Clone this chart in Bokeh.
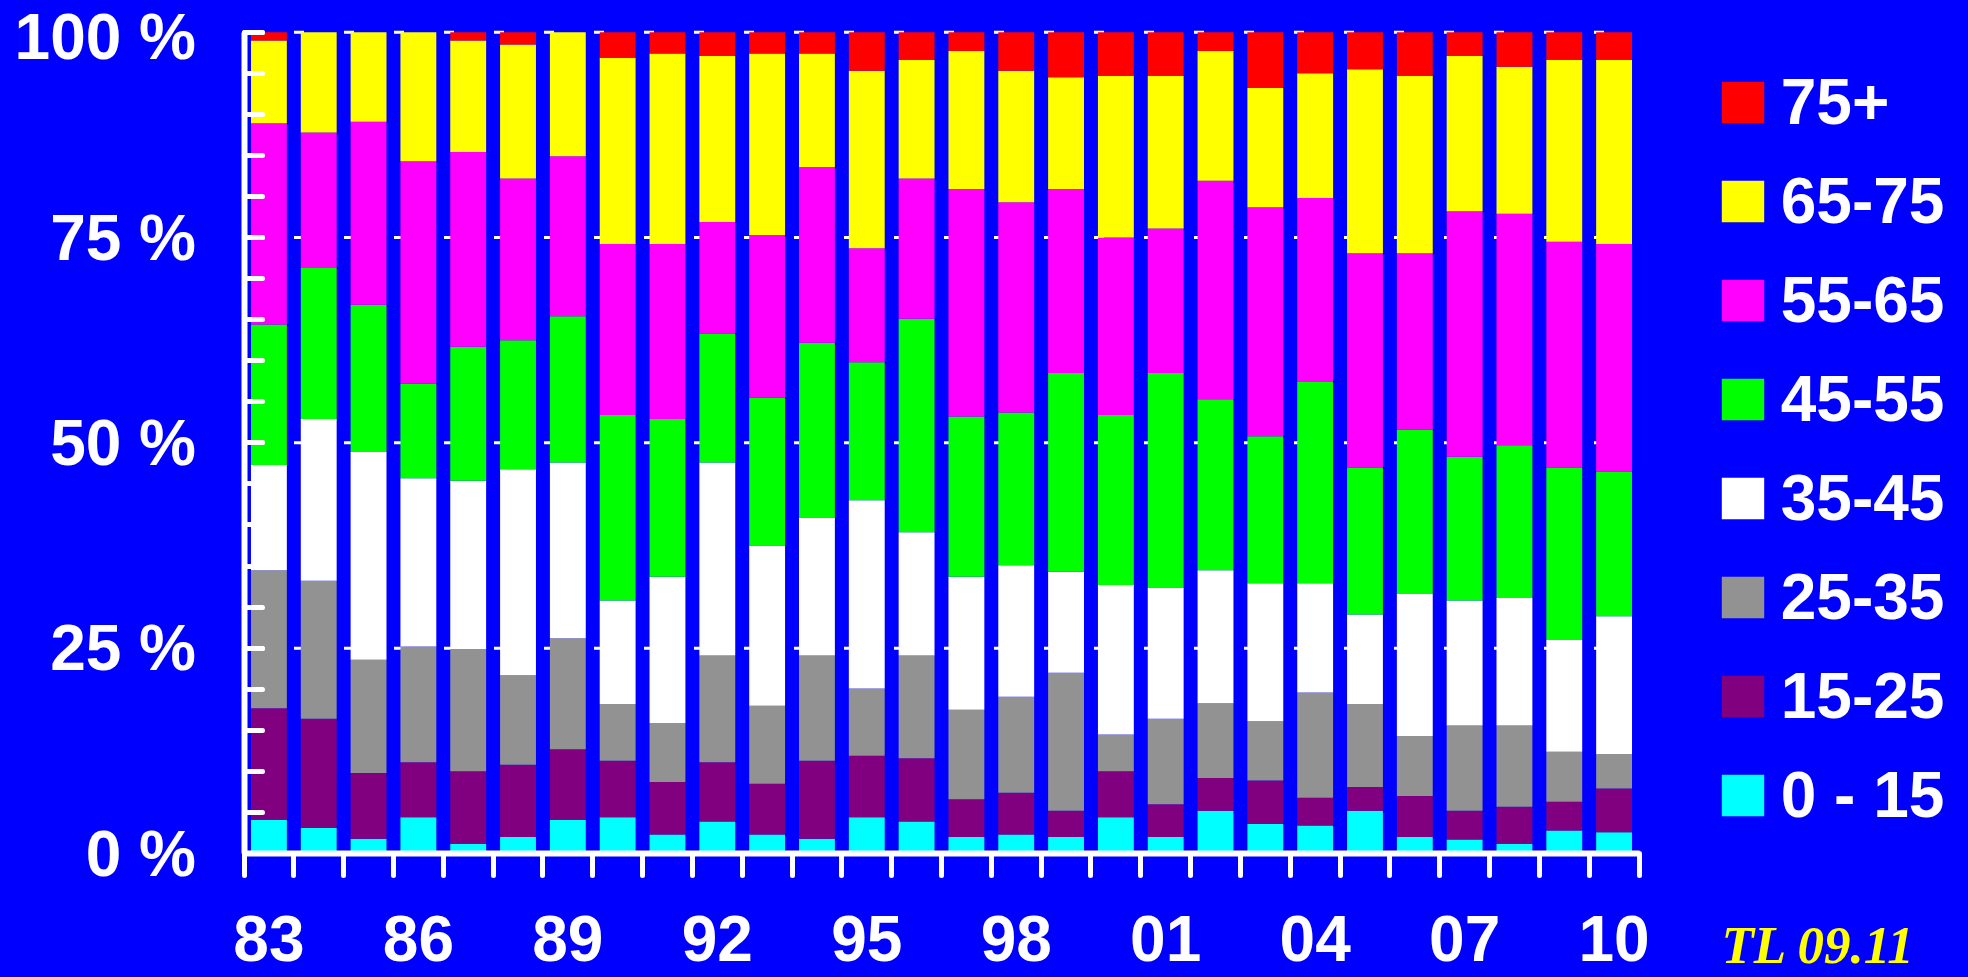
from bokeh.plotting import figure
from bokeh.models import ColumnDataSource, Range1d, FixedTicker, Legend, LegendItem, Label
from bokeh.embed import file_html
from bokeh.resources import INLINE

# ---------------- data (shares in %) ----------------
years = ["83", "84", "85", "86", "87", "88", "89", "90", "91", "92", "93", "94", "95", "96",
         "97", "98", "99", "00", "01", "02", "03", "04", "05", "06", "07", "08", "09", "10"]

groups = ["0 - 15", "15-25", "25-35", "35-45", "45-55", "55-65", "65-75", "75+"]
colors = ["#00FFFF", "#800080", "#929292", "#FFFFFF", "#00FF00", "#FF00FF", "#FFFF00", "#FF0000"]

age_0_15 = [4.1, 3.1, 1.8, 4.4, 1.2, 2.0, 4.1, 4.4, 2.3, 3.9, 2.3, 1.8, 4.4, 3.9,
            2.0, 2.3, 2.0, 4.4, 2.0, 5.2, 3.6, 3.4, 5.2, 2.0, 1.7, 1.2, 2.8, 2.6]
age_15_25 = [13.6, 13.3, 8.0, 6.7, 8.8, 8.8, 8.6, 6.9, 6.4, 7.2, 6.2, 9.5, 7.5, 7.7,
             4.6, 5.1, 3.2, 5.6, 4.0, 4.0, 5.3, 3.4, 2.9, 5.0, 3.5, 4.5, 3.5, 5.3]
age_25_35 = [16.8, 16.8, 13.8, 14.1, 14.9, 10.9, 13.5, 6.9, 7.2, 13.0, 9.5, 12.8, 8.2, 12.5,
             10.9, 11.7, 16.8, 4.5, 10.4, 9.1, 7.2, 12.8, 10.1, 7.3, 10.4, 9.9, 6.1, 4.2]
age_35_45 = [12.8, 19.7, 25.3, 20.5, 20.5, 25.1, 21.4, 12.6, 17.8, 23.5, 19.5, 16.8, 22.9, 15.0,
             16.2, 16.0, 12.3, 18.2, 16.0, 16.2, 16.8, 13.3, 10.9, 17.3, 15.2, 15.5, 13.6, 16.8]
age_45_55 = [17.1, 18.4, 17.9, 11.5, 16.3, 15.7, 17.8, 22.6, 19.2, 15.7, 18.0, 21.3, 16.8, 26.0,
             19.5, 18.6, 24.2, 20.7, 26.1, 20.8, 17.9, 24.5, 17.9, 20.0, 17.5, 18.6, 21.0, 17.6]
age_55_65 = [24.5, 16.5, 22.3, 27.1, 23.7, 19.7, 19.5, 20.8, 21.3, 13.6, 19.8, 21.4, 13.9, 17.1,
             27.7, 25.6, 22.4, 21.6, 17.6, 26.6, 27.9, 22.4, 26.1, 21.5, 29.9, 28.2, 27.5, 27.7]
age_65_75 = [10.1, 12.2, 10.9, 15.7, 13.6, 16.3, 15.1, 22.7, 23.2, 20.2, 22.1, 13.8, 21.6, 14.4,
             16.8, 16.0, 13.6, 19.7, 18.6, 15.8, 14.5, 15.2, 22.4, 21.6, 18.9, 17.9, 22.1, 22.4]
age_75_plus = [1.0, 0.0, 0.0, 0.0, 1.0, 1.5, 0.0, 3.1, 2.6, 2.9, 2.6, 2.6, 4.7, 3.4,
               2.3, 4.7, 5.5, 5.3, 5.3, 2.3, 6.8, 5.0, 4.5, 5.3, 2.9, 4.2, 3.4, 3.4]

x_tick_labels = ["83", "86", "89", "92", "95", "98", "01", "04", "07", "10"]
y_tick_values = [0, 25, 50, 75, 100]
y_tick_labels = ["0 %", "25 %", "50 %", "75 %", "100 %"]
y_minor_step = 5
credit = "TL 09.11"

series = [age_0_15, age_15_25, age_25_35, age_35_45, age_45_55, age_55_65, age_65_75, age_75_plus]

# ---------------- layout (pixels) ----------------
W, H = 1964, 975
AX_LEFT, AX_RIGHT = 243.5, 1638.5      # pixel x of the plot area edges
AX_TOP, AX_BOTTOM = 31.7, 853.0        # pixel y of 100 % and 0 %
BLUE = "#0000FF"
FONT = "Liberation Sans"

n = len(years)
x_lo, x_hi = -0.5, n - 0.5
y_lo, y_hi = 0, 100
px_x = (AX_RIGHT - AX_LEFT) / (x_hi - x_lo)
px_y = (AX_BOTTOM - AX_TOP) / (y_hi - y_lo)
x_range = Range1d(x_lo - AX_LEFT / px_x, x_hi + (W - AX_RIGHT) / px_x)
y_range = Range1d(y_lo - (H - AX_BOTTOM) / px_y, y_hi + AX_TOP / px_y)

keys = ["g%d" % i for i in range(len(groups))]
data = {"x": list(range(n))}
for k, s in zip(keys, series):
    data[k] = s
source = ColumnDataSource(data)

p = figure(width=W, height=H, output_backend="svg", toolbar_location=None,
           x_range=x_range, y_range=y_range, min_border=0)
p.background_fill_color = BLUE
p.border_fill_color = BLUE
p.outline_line_color = None
p.xgrid.visible = False
p.ygrid.visible = False

# dashed quarter lines behind the bars
grid_y = y_tick_values[1:]
p.segment(x0=[x_lo] * len(grid_y), x1=[x_hi] * len(grid_y), y0=grid_y, y1=grid_y,
          line_color="white", line_width=3, line_dash="10 40")

renderers = p.vbar_stack(keys, x="x", width=0.72, source=source,
                         fill_color=colors, line_color=None)

# x axis: ticks between bars, labels under selected bars
xa = p.xaxis[0]
xa.fixed_location = y_lo
xa.bounds = (x_lo, x_hi)
label_pos = [years.index(l) for l in x_tick_labels]
xa.ticker = FixedTicker(ticks=label_pos, minor_ticks=[i - 0.5 for i in range(n + 1)])
xa.major_label_overrides = {v: t for v, t in zip(label_pos, x_tick_labels)}
xa.axis_line_color = "white"
xa.axis_line_width = 6
xa.major_tick_line_color = None
xa.major_tick_in = 0
xa.major_tick_out = 0
xa.minor_tick_line_color = "white"
xa.minor_tick_line_width = 5
xa.minor_tick_line_cap = "round"
xa.minor_tick_in = 0
xa.minor_tick_out = 22
xa.major_label_text_color = "white"
xa.major_label_text_font = FONT
xa.major_label_text_font_style = "bold"
xa.major_label_text_font_size = "64px"
xa.major_label_standoff = 40

# y axis
ya = p.yaxis[0]
ya.fixed_location = x_lo
ya.bounds = (y_lo, y_hi)
ya.ticker = FixedTicker(ticks=y_tick_values, minor_ticks=list(range(y_lo, y_hi + 1, y_minor_step)))
ya.major_label_overrides = {v: t for v, t in zip(y_tick_values, y_tick_labels)}
ya.axis_line_color = "white"
ya.axis_line_width = 6
ya.major_tick_line_color = "white"
ya.major_tick_line_width = 5
ya.major_tick_line_cap = "round"
ya.major_tick_in = 18
ya.major_tick_out = 0
ya.minor_tick_line_color = "white"
ya.minor_tick_line_width = 5
ya.minor_tick_line_cap = "round"
ya.minor_tick_in = 18
ya.minor_tick_out = 0
ya.major_label_text_color = "white"
ya.major_label_text_font = FONT
ya.major_label_text_font_style = "bold"
ya.major_label_text_font_size = "64px"
ya.major_label_standoff = 48

# credit
p.add_layout(Label(x=1721, y=H - 968.3 + 24, x_units="screen", y_units="screen", text=credit,
                   text_align="left", text_baseline="alphabetic",
                   text_font="Liberation Serif", text_font_style="bold italic",
                   text_font_size="53px", text_color="#FFFF00"))

# legend (top to bottom: oldest group first)
items = [LegendItem(label=g, renderers=[r]) for g, r in zip(groups[::-1], renderers[::-1])]
legend = Legend(items=items, location=(1715.7, 143.5), orientation="vertical",
                glyph_width=53, glyph_height=52, label_height=74, spacing=25,
                padding=0, margin=0, border_line_color=None, background_fill_alpha=0,
                label_standoff=12, label_text_font=FONT, label_text_font_style="bold",
                label_text_font_size="64px", label_text_color="white")
p.add_layout(legend)

TEMPLATE = "{% block postamble %}<style>html, body { background: #0000FF; }</style>{% endblock %}"
open("out.html", "w").write(file_html(p, INLINE, template=TEMPLATE))
